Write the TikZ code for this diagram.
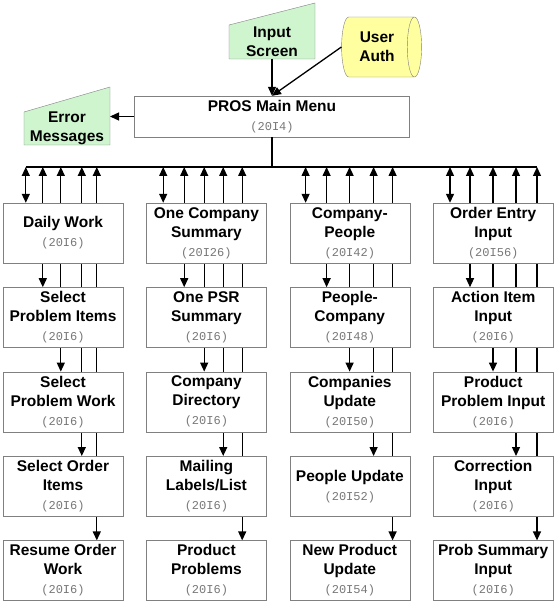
\documentclass[tikz,border=0pt]{standalone}
\usepackage{fontspec}
\setmainfont{Liberation Sans}
\newfontfamily\codefont{Liberation Mono}
\usetikzlibrary{shapes.geometric,arrows.meta,positioning,backgrounds}
\definecolor{boxgray}{RGB}{128,128,128}
\definecolor{codegray}{RGB}{120,120,120}
\definecolor{screengreen}{RGB}{206,245,206}
\definecolor{authyellow}{RGB}{255,255,160}
\newcommand{\code}[1]{{\codefont\mdseries\fontsize{12}{19}\selectfont\color{codegray}#1}}

\begin{document}
\begin{tikzpicture}[
    x=1pt, y=-1pt,
    node distance=24pt and 23pt,
    module/.style={rectangle, draw=boxgray, fill=white, minimum width=120pt, minimum height=60pt, inner sep=1pt, align=center, font=\fontsize{15.5}{19}\selectfont\bfseries},
    menu/.style={module, minimum width=275pt, minimum height=41pt},
    screen/.style={rectangle, minimum width=86pt, inner sep=0pt, outer sep=0pt, align=center, font=\fontsize{15.5}{19}\selectfont\bfseries},
    store/.style={cylinder, draw=boxgray, fill=authyellow, minimum height=80pt, minimum width=60pt, aspect=0.45, inner sep=1pt, align=center, font=\fontsize{15.5}{19}\selectfont\bfseries},
    shade/.style={draw=boxgray, fill=screengreen},
    arrow/.style={->, >={Triangle[length=9pt,width=8pt]}, line width=1.3pt},
    link/.style={arrow, <->},
    wire/.style={line width=1.3pt}
]
\useasboundingbox (0,0) rectangle (555,601);

% Main menu and its inputs
\node[menu] (main) at (272,116.5) {PROS Main Menu\\\code{(20I4)}};
\node[screen, minimum height=34pt] (is) at (272,42) {Input\\Screen};
\node[screen, minimum height=33pt] (em) at (67,128.5) {Error\\Messages};
\node[store] (ua) at (377,47) {User\\Auth};
\coordinate (bus) at (272,167);

% Daily work column
\node[module] (dw) at (63,233) {Daily Work\\\code{(20I6)}};
\node[module, below=of dw] (spi) {Select\\Problem Items\\\code{(20I6)}};
\node[module, below=of spi] (spw) {Select\\Problem Work\\\code{(20I6)}};
\node[module, below=of spw] (soi) {Select Order\\Items\\\code{(20I6)}};
\node[module, below=of soi] (row) {Resume Order\\Work\\\code{(20I6)}};

% Company summary column
\node[module, right=of dw] (ocs) {One Company\\Summary\\\code{(20I26)}};
\node[module, below=of ocs] (psr) {One PSR\\Summary\\\code{(20I6)}};
\node[module, below=of psr] (cdir) {Company\\Directory\\\code{(20I6)}};
\node[module, below=of cdir] (mll) {Mailing\\Labels/List\\\code{(20I6)}};
\node[module, below=of mll] (pp) {Product\\Problems\\\code{(20I6)}};

% Company/people column
\node[module, right=of ocs] (cpe) {Company-\\People\\\code{(20I42)}};
\node[module, below=of cpe] (pco) {People-\\Company\\\code{(20I48)}};
\node[module, below=of pco] (cup) {Companies\\Update\\\code{(20I50)}};
\node[module, below=of cup] (pup) {People Update\\\code{(20I52)}};
\node[module, below=of pup] (npu) {New Product\\Update\\\code{(20I54)}};

% Input column
\node[module, right=of cpe] (oei) {Order Entry\\Input\\\code{(20I56)}};
\node[module, below=of oei] (aii) {Action Item\\Input\\\code{(20I6)}};
\node[module, below=of aii] (ppi) {Product\\Problem Input\\\code{(20I6)}};
\node[module, below=of ppi] (cin) {Correction\\Input\\\code{(20I6)}};
\node[module, below=of cin] (psi) {Prob Summary\\Input\\\code{(20I6)}};

% Arrows to and from the main menu
\draw[arrow] (is.south) -- (main.north);
\draw[arrow] (ua.west) -- (main.north);
\draw[arrow] (main.west) -- (main.west -| em.east);
\draw[wire] (main.south) -- (bus);
\draw[wire] ([xshift=23pt]dw.north west |- bus) -- ([xshift=104pt]oei.north west |- bus);

\begin{scope}[on background layer]
% Screen shapes
\draw[shade] (is.south west) -- (is.south east) -- ([yshift=22pt]is.north east) -- (is.north west) -- cycle;
\draw[shade] (em.south west) -- (em.south east) -- ([yshift=25pt]em.north east) -- (em.north west) -- cycle;

% Bus links
\draw[link] ([xshift=23pt]dw.north west |- bus) -- ([xshift=23pt]dw.north west);
\draw[link] ([xshift=40pt]dw.north west |- bus) -- ([xshift=40pt]spi.north west);
\draw[link] ([xshift=58pt]dw.north west |- bus) -- ([xshift=58pt]spw.north west);
\draw[link] ([xshift=79pt]dw.north west |- bus) -- ([xshift=79pt]soi.north west);
\draw[link] ([xshift=94pt]dw.north west |- bus) -- ([xshift=94pt]row.north west);

\draw[link] ([xshift=17pt]ocs.north west |- bus) -- ([xshift=17pt]ocs.north west);
\draw[link] ([xshift=38pt]ocs.north west |- bus) -- ([xshift=38pt]psr.north west);
\draw[link] ([xshift=58pt]ocs.north west |- bus) -- ([xshift=58pt]cdir.north west);
\draw[link] ([xshift=77pt]ocs.north west |- bus) -- ([xshift=77pt]mll.north west);
\draw[link] ([xshift=96pt]ocs.north west |- bus) -- ([xshift=96pt]pp.north west);

\draw[link] ([xshift=16pt]cpe.north west |- bus) -- ([xshift=16pt]cpe.north west);
\draw[link] ([xshift=37pt]cpe.north west |- bus) -- ([xshift=37pt]pco.north west);
\draw[link] ([xshift=60pt]cpe.north west |- bus) -- ([xshift=60pt]cup.north west);
\draw[link] ([xshift=84pt]cpe.north west |- bus) -- ([xshift=84pt]pup.north west);
\draw[link] ([xshift=103pt]cpe.north west |- bus) -- ([xshift=103pt]npu.north west);

\draw[link] ([xshift=17pt]oei.north west |- bus) -- ([xshift=17pt]oei.north west);
\draw[link] ([xshift=37pt]oei.north west |- bus) -- ([xshift=37pt]aii.north west);
\draw[link] ([xshift=60pt]oei.north west |- bus) -- ([xshift=60pt]ppi.north west);
\draw[link] ([xshift=83pt]oei.north west |- bus) -- ([xshift=83pt]cin.north west);
\draw[link] ([xshift=104pt]oei.north west |- bus) -- ([xshift=104pt]psi.north west);
\end{scope}

\end{tikzpicture}
\end{document}
